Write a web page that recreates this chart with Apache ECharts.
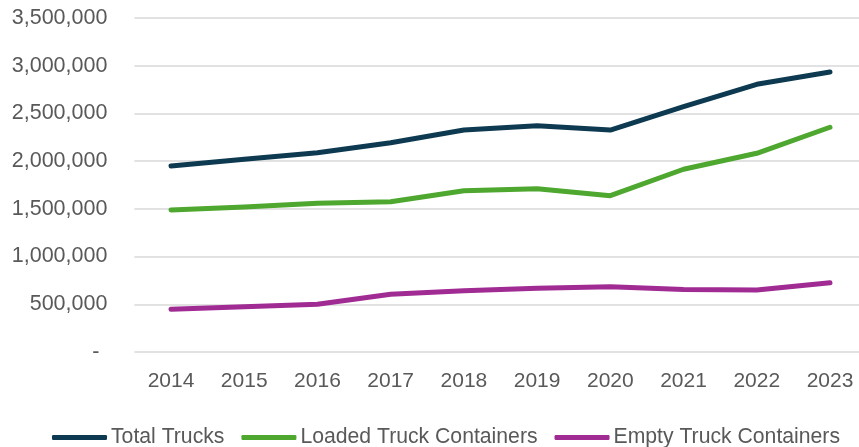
<!DOCTYPE html>
<html>
<head>
<meta charset="utf-8">
<script src="https://cdn.jsdelivr.net/npm/echarts@6/dist/echarts.min.js"></script>
<style>
  html, body { margin: 0; padding: 0; background: #fff; }
  #chart { width: 859px; height: 447px; }
</style>
</head>
<body>
<div id="chart"></div>
<script>
const years = ['2014', '2015', '2016', '2017', '2018', '2019', '2020', '2021', '2022', '2023'];
const totalTrucks = [1949000, 2020000, 2088000, 2193000, 2326000, 2371000, 2326000, 2571000, 2805000, 2934000];
const loadedContainers = [1488000, 1520000, 1558000, 1575000, 1690000, 1711000, 1638000, 1915000, 2082000, 2355000];
const emptyContainers = [447000, 475000, 500000, 605000, 642000, 667000, 684000, 656000, 650000, 726000];

const textColor = '#595959';
const font = '"Liberation Sans", Arial, sans-serif';

const chart = echarts.init(document.getElementById('chart'), null, { renderer: 'canvas' });

const lineSeries = (name, data, color) => ({
    name: name,
    type: 'line',
    data: data,
    symbol: 'none',
    smooth: false,
    lineStyle: { color: color, width: 5, cap: 'round', join: 'round' },
    itemStyle: { color: color }
});

chart.setOption({
    animation: false,
    grid: { left: 134.4, right: -7.6, top: 18, bottom: 95, outerBoundsMode: 'none' },
    xAxis: {
        type: 'category',
        data: years,
        boundaryGap: true,
        axisLine: { show: false },
        axisTick: { show: false },
        axisLabel: { color: textColor, fontSize: 21, fontFamily: font, margin: 19 }
    },
    yAxis: {
        type: 'value',
        min: 0,
        max: 3500000,
        interval: 500000,
        axisLine: { show: false },
        axisTick: { show: false },
        splitLine: { lineStyle: { color: '#d9d9d9', width: 1.5 } },
        axisLabel: {
            color: textColor,
            fontSize: 21.5,
            fontFamily: font,
            margin: 27,
            formatter: (v) => v === 0 ? '{dash|-}' : v.toLocaleString('en-US'),
            rich: { dash: { color: textColor, fontSize: 21.5, fontFamily: font, padding: [0, 8, 0, 0] } }
        }
    },
    legend: {
        left: 47,
        top: 422,
        itemWidth: 55,
        itemHeight: 5,
        itemGap: 17,
        icon: 'roundRect',
        textStyle: { color: textColor, fontSize: 21.2, fontFamily: font, padding: [0, 0, 0, -1] },
        data: ['Total Trucks', 'Loaded Truck Containers', 'Empty Truck Containers']
    },
    series: [
        lineSeries('Total Trucks', totalTrucks, '#0e3a51'),
        lineSeries('Loaded Truck Containers', loadedContainers, '#4ea72e'),
        lineSeries('Empty Truck Containers', emptyContainers, '#a02b93')
    ]
});
</script>
</body>
</html>
